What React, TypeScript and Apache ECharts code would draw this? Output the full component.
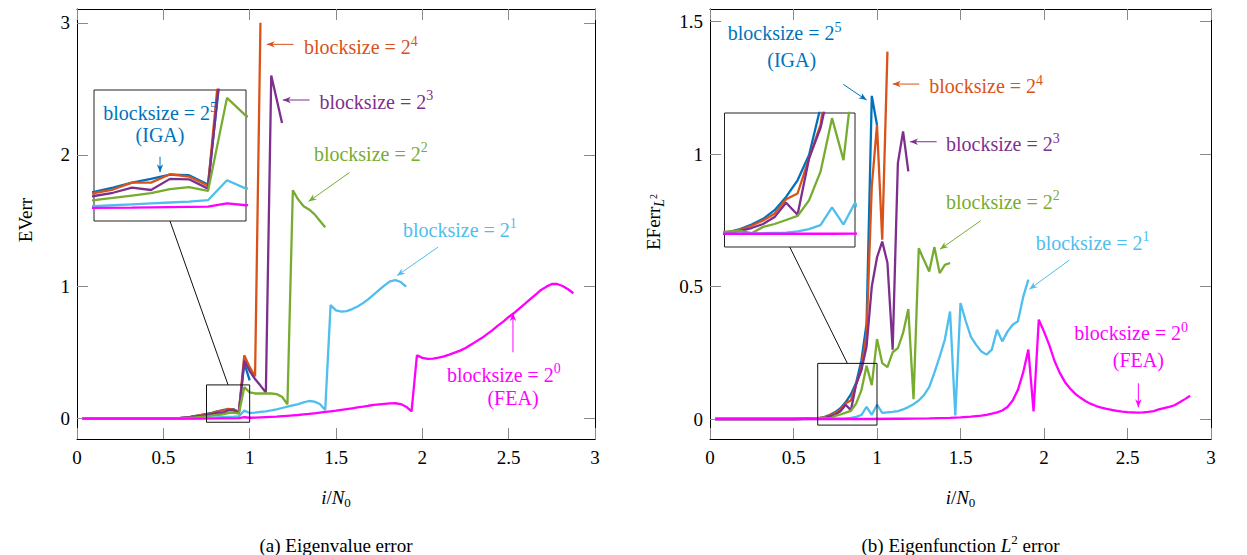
import React, { useEffect, useRef } from "react";
import * as echarts from "echarts";

const N0 = 32;
const SERIF = "'Liberation Serif', 'DejaVu Serif', serif";
const FS = 19;

const colors = ["#0072BD", "#D95319", "#7E2F8E", "#77AC30", "#4DBEEE", "#FF00FF"];
const exponents = ["5", "4", "3", "2", "1", "0"];

const xTickValues = [0, 0.5, 1, 1.5, 2, 2.5, 3];
const evTickValues = [0, 1, 2, 3];
const efTickValues = [0, 0.5, 1, 1.5];

// [i, value] pairs, plotted at x = i / N0
// (a) Eigenvalue error
const evB5 = [[1, 0], [16, 0], [18, 0.002], [19, 0.004], [20, 0.008], [21, 0.013], [22, 0.02], [23, 0.027], [24, 0.035], [25, 0.044], [26, 0.055], [27, 0.063], [28, 0.072], [29, 0.071], [30, 0.051], [31, 0.42], [32, 0.29]];
const evB4 = [[1, 0], [16, 0], [18, 0.002], [19, 0.004], [20, 0.007], [21, 0.012], [22, 0.018], [23, 0.025], [24, 0.032], [25, 0.04], [26, 0.055], [27, 0.055], [28, 0.073], [29, 0.068], [30, 0.048], [31, 0.48], [32, 0.39], [33, 0.32], [34, 3.0]];
const evB3 = [[1, 0], [16, 0], [18, 0.002], [19, 0.003], [20, 0.006], [21, 0.01], [22, 0.015], [23, 0.02], [24, 0.026], [25, 0.033], [26, 0.044], [27, 0.039], [28, 0.063], [29, 0.062], [30, 0.042], [31, 0.44], [32, 0.36], [33, 0.3], [34, 0.25], [35, 0.197], [36, 2.6], [37, 2.42], [38, 2.24]];
const evB2 = [[1, 0], [16, 0], [18, 0.001], [19, 0.002], [20, 0.004], [21, 0.006], [22, 0.009], [23, 0.013], [24, 0.017], [25, 0.022], [26, 0.027], [27, 0.032], [28, 0.041], [29, 0.045], [30, 0.037], [31, 0.238], [32, 0.199], [33, 0.19], [34, 0.19], [35, 0.19], [36, 0.19], [37, 0.185], [38, 0.165], [39, 0.108], [40, 1.73], [41, 1.66], [42, 1.61], [43, 1.585], [44, 1.55], [45, 1.5], [46, 1.45]];
const evB1 = [[1, 0], [16, 0], [20, 0.001], [22, 0.002], [24, 0.004], [25, 0.006], [26, 0.008], [27, 0.01], [28, 0.012], [29, 0.014], [30, 0.017], [31, 0.06], [32, 0.042], [33, 0.045], [34, 0.05], [35, 0.055], [36, 0.062], [37, 0.07], [38, 0.08], [39, 0.09], [40, 0.1], [41, 0.11], [42, 0.122], [43, 0.133], [44, 0.128], [45, 0.11], [46, 0.065], [47, 0.86], [48, 0.82], [49, 0.81], [50, 0.815], [51, 0.83], [52, 0.85], [53, 0.875], [54, 0.905], [55, 0.94], [56, 0.975], [57, 1.01], [58, 1.04], [59, 1.05], [60, 1.035], [61, 1.0]];
const evB0 = [[1, 0], [22, 0], [26, 0.001], [30, 0.003], [31, 0.01], [32, 0.006], [33, 0.007], [34, 0.009], [35, 0.011], [36, 0.013], [37, 0.015], [38, 0.018], [39, 0.021], [40, 0.024], [41, 0.027], [42, 0.031], [43, 0.035], [44, 0.04], [45, 0.045], [46, 0.05], [47, 0.055], [48, 0.06], [49, 0.066], [50, 0.072], [51, 0.078], [52, 0.084], [53, 0.09], [54, 0.097], [55, 0.103], [56, 0.108], [57, 0.112], [58, 0.115], [59, 0.116], [60, 0.11], [61, 0.09], [62, 0.055], [63, 0.48], [64, 0.46], [65, 0.452], [66, 0.455], [67, 0.462], [68, 0.472], [69, 0.485], [70, 0.5], [71, 0.515], [72, 0.535], [73, 0.56], [74, 0.585], [75, 0.61], [76, 0.64], [77, 0.67], [78, 0.705], [79, 0.735], [80, 0.77], [81, 0.8], [82, 0.835], [83, 0.87], [84, 0.905], [85, 0.94], [86, 0.975], [87, 1.0], [88, 1.02], [89, 1.02], [90, 1.005], [91, 0.98], [92, 0.95]];

// (b) Eigenfunction L2 error
const efB5 = [[1, 0], [16, 0], [18, 0.001], [20, 0.002], [21, 0.003], [22, 0.008], [23, 0.016], [24, 0.026], [25, 0.041], [26, 0.064], [27, 0.093], [28, 0.137], [29, 0.22], [30, 0.36], [31, 1.22], [32, 1.11]];
const efB4 = [[1, 0], [16, 0], [18, 0.001], [20, 0.002], [21, 0.003], [22, 0.007], [23, 0.014], [24, 0.023], [25, 0.035], [26, 0.06], [27, 0.07], [28, 0.131], [29, 0.19], [30, 0.32], [31, 0.878], [32, 1.11], [33, 0.677], [34, 1.387]];
const efB3 = [[1, 0], [16, 0], [18, 0.001], [20, 0.002], [21, 0.002], [22, 0.005], [23, 0.01], [24, 0.017], [25, 0.029], [26, 0.054], [27, 0.033], [28, 0.131], [29, 0.184], [30, 0.274], [31, 0.5], [32, 0.61], [33, 0.67], [34, 0.59], [35, 0.262], [36, 0.966], [37, 1.086], [38, 0.935]];
const efB2 = [[1, 0], [16, 0], [19, 0.001], [21, 0.004], [22, 0.005], [23, 0.001], [24, 0.012], [25, 0.017], [26, 0.024], [27, 0.031], [28, 0.058], [29, 0.108], [30, 0.201], [31, 0.128], [32, 0.302], [33, 0.211], [34, 0.196], [35, 0.252], [36, 0.268], [37, 0.325], [38, 0.415], [39, 0.075], [40, 0.645], [41, 0.6], [42, 0.557], [43, 0.649], [44, 0.551], [45, 0.582], [46, 0.589]];
const efB1 = [[1, 0], [20, 0], [24, 0.001], [26, 0.002], [27, 0.004], [28, 0.008], [29, 0.015], [30, 0.046], [31, 0.016], [32, 0.054], [33, 0.023], [34, 0.025], [35, 0.027], [36, 0.03], [37, 0.036], [38, 0.045], [39, 0.056], [40, 0.07], [41, 0.09], [42, 0.12], [43, 0.175], [44, 0.235], [45, 0.3], [46, 0.406], [47, 0.013], [48, 0.438], [49, 0.37], [50, 0.31], [51, 0.28], [52, 0.255], [53, 0.243], [54, 0.262], [55, 0.337], [56, 0.293], [57, 0.33], [58, 0.356], [59, 0.369], [60, 0.46], [61, 0.526]];
const efB0 = [[1, 0], [30, 0], [36, 0.001], [42, 0.002], [46, 0.004], [48, 0.006], [50, 0.009], [52, 0.013], [53, 0.016], [54, 0.02], [55, 0.025], [56, 0.032], [57, 0.045], [58, 0.07], [59, 0.11], [60, 0.175], [61, 0.262], [62, 0.029], [63, 0.375], [64, 0.33], [65, 0.28], [66, 0.22], [67, 0.175], [68, 0.14], [69, 0.115], [70, 0.095], [71, 0.08], [72, 0.067], [73, 0.057], [74, 0.049], [75, 0.043], [76, 0.038], [77, 0.034], [78, 0.031], [79, 0.028], [80, 0.026], [81, 0.025], [82, 0.024], [83, 0.025], [84, 0.027], [85, 0.03], [86, 0.036], [87, 0.041], [88, 0.046], [89, 0.052], [90, 0.063], [91, 0.075], [92, 0.088]];

const evSeries = [evB5, evB4, evB3, evB2, evB1, evB0];
const efSeries = [efB5, efB4, efB3, efB2, efB1, efB0];

// axis ranges
const xRange = [0, 3];
const evRange = [-0.155, 3.105];
const efRange = [-0.0755, 1.548];
const evZoomX = [0.75, 1.0];
const evZoomY = [-0.028, 0.255];
const efZoomX = [0.645, 1.0];
const efZoomY = [-0.023, 0.21];

// annotation anchors in data coordinates
const evNotes = [
  { s: 1, at: [1.315, 2.816], from: [1.254, 2.837], to: [1.099, 2.837] },
  { s: 2, at: [1.404, 2.4], from: [1.347, 2.415], to: [1.192, 2.415] },
  { s: 3, at: [1.372, 2.006], from: [1.578, 1.865], to: [1.341, 1.645] },
  { s: 4, at: [1.888, 1.431], from: [2.091, 1.3], to: [1.853, 1.083] },
  { s: 5, at: [2.143, 0.333], from: [2.525, 0.502], to: [2.525, 0.8], sub: "(FEA)", subAt: [2.525, 0.159] },
];
const evInsetNote = { s: 0, at: [0.7653, 0.2047], from: [0.8586, 0.111], to: [0.8586, 0.0772], sub: "(IGA)", subAt: [0.8586, 0.1578] };
const efNotes = [
  { s: 0, at: [0.106, 1.456], from: [0.798, 1.2635], to: [0.938, 1.204], sub: "(IGA)", subAt: [0.489, 1.355] },
  { s: 1, at: [1.313, 1.257], from: [1.253, 1.2646], to: [1.094, 1.2646] },
  { s: 2, at: [1.413, 1.038], from: [1.357, 1.0468], to: [1.198, 1.0468] },
  { s: 3, at: [1.413, 0.82], from: [1.621, 0.7486], to: [1.377, 0.6406] },
  { s: 4, at: [1.95, 0.6655], from: [2.152, 0.6], to: [1.912, 0.4896] },
  { s: 5, at: [2.181, 0.3235], from: [2.565, 0.1348], to: [2.565, 0.0442], sub: "(FEA)", subAt: [2.565, 0.2227] },
];

const toXY = (pts: number[][]) => pts.map(([i, v]) => [i / N0, v]);

const tickStyle = { show: true, inside: true, length: 11, lineStyle: { color: "#8a8a8a", width: 1 } };
const lineAx = { show: true, onZero: false, lineStyle: { color: "#000", width: 1 } };
const labelStyle = { color: "#000", fontFamily: SERIF, fontSize: FS };

export default function App() {
  const ref = useRef<HTMLDivElement>(null);
  useEffect(() => {
    document.body.style.margin = "0";
    const el = ref.current!;
    const chart = echarts.init(el, undefined, { renderer: "svg" });

    const mainX = (grid: number, pos: string, showLabel: boolean) => ({
      type: "value", gridIndex: grid, position: pos, min: xRange[0], max: xRange[1], interval: 0.5,
      axisLine: lineAx, axisTick: { ...tickStyle, customValues: xTickValues }, splitLine: { show: false },
      axisLabel: { show: showLabel, margin: 9, customValues: xTickValues, ...labelStyle },
    });
    const mainY = (grid: number, pos: string, showLabel: boolean, range: number[], ticks: number[]) => ({
      type: "value", gridIndex: grid, position: pos, min: range[0], max: range[1],
      axisLine: lineAx, axisTick: { ...tickStyle, customValues: ticks }, splitLine: { show: false },
      axisLabel: { show: showLabel, margin: 7, customValues: ticks, ...labelStyle },
    });
    const insetAx = (grid: number, range: number[]) => ({
      type: "value", gridIndex: grid, min: range[0], max: range[1], show: false, splitLine: { show: false },
    });

    const series: any[] = [];
    [evSeries, efSeries].forEach((set, c) => {
      set.forEach((pts, s) => {
        const data = toXY(pts);
        series.push({
          type: "line", xAxisIndex: c, yAxisIndex: c, data, showSymbol: false, symbol: "none",
          lineStyle: { color: colors[s], width: 2.3 }, itemStyle: { color: colors[s] }, z: 2,
        });
        series.push({
          type: "line", xAxisIndex: 4 + c, yAxisIndex: 4 + c, data, showSymbol: false, symbol: "none",
          lineStyle: { color: colors[s], width: 2.3 }, itemStyle: { color: colors[s] }, z: 7,
        });
      });
    });

    chart.setOption({
      animation: false,
      backgroundColor: "#fff",
      grid: [
        { left: 77, top: 9, width: 518, height: 430 },
        { left: 710, top: 9, width: 501, height: 430 },
        { left: 94, top: 90, width: 152, height: 131, show: true, backgroundColor: "#fff", borderColor: "#222", borderWidth: 1, z: 5 },
        { left: 724.5, top: 113, width: 130.5, height: 134, show: true, backgroundColor: "#fff", borderColor: "#222", borderWidth: 1, z: 5 },
      ],
      xAxis: [
        mainX(0, "bottom", true), mainX(1, "bottom", true), mainX(0, "top", false), mainX(1, "top", false),
        insetAx(2, evZoomX), insetAx(3, efZoomX),
      ],
      yAxis: [
        mainY(0, "left", true, evRange, evTickValues), mainY(1, "left", true, efRange, efTickValues),
        mainY(0, "right", false, evRange, evTickValues), mainY(1, "right", false, efRange, efTickValues),
        insetAx(2, evZoomY), insetAx(3, efZoomY),
      ],
      series,
    });

    const px = (x: number, y: number, ax: number) => chart.convertToPixel({ xAxisIndex: ax, yAxisIndex: ax }, [x, y]) as number[];

    const richFor = (color: string) => ({
      b: { fontSize: 20, fontFamily: SERIF, fill: color, lineHeight: 26, verticalAlign: "middle" },
      s: { fontSize: 14, fontFamily: SERIF, fill: color, lineHeight: 12, verticalAlign: "top" },
    });

    const graphics: any[] = [];
    const arrow = (a: number[], b: number[], color: string) => {
      graphics.push({ type: "line", shape: { x1: a[0], y1: a[1], x2: b[0], y2: b[1] }, style: { stroke: color, lineWidth: 1 }, z: 50 });
      const dx = b[0] - a[0], dy = b[1] - a[1];
      const L = Math.hypot(dx, dy) || 1;
      const ux = dx / L, uy = dy / L;
      const hl = 8, hw = 3.2;
      const bx = b[0] - ux * hl, by = b[1] - uy * hl;
      graphics.push({
        type: "polygon",
        shape: { points: [[b[0], b[1]], [bx - uy * hw, by + ux * hw], [b[0] - ux * hl * 0.7, b[1] - uy * hl * 0.7], [bx + uy * hw, by - ux * hw]] },
        style: { fill: color }, z: 50,
      });
    };
    const note = (n: any, ax: number) => {
      const color = colors[n.s];
      const p = px(n.at[0], n.at[1], ax);
      graphics.push({
        type: "text", x: p[0], y: p[1], z: 50,
        style: { text: `{b|blocksize = 2}{s|${exponents[n.s]}}`, rich: richFor(color), align: "left", verticalAlign: "middle" },
      });
      if (n.sub) {
        const q = px(n.subAt[0], n.subAt[1], ax);
        graphics.push({
          type: "text", x: q[0], y: q[1], z: 50,
          style: { text: n.sub, fill: color, fontSize: 20, fontFamily: SERIF, align: "center", verticalAlign: "middle" },
        });
      }
      arrow(px(n.from[0], n.from[1], ax), px(n.to[0], n.to[1], ax), color);
    };
    evNotes.forEach((n) => note(n, 0));
    efNotes.forEach((n) => note(n, 1));
    note(evInsetNote, 4);

    // zoom boxes and connectors
    const spy = (ax: number, inAx: number, zx: number[], zy: number[]) => {
      const tl = px(zx[0], zy[1], ax), br = px(zx[1], zy[0], ax);
      graphics.push({ type: "rect", shape: { x: tl[0], y: tl[1], width: br[0] - tl[0], height: br[1] - tl[1] }, style: { fill: "none", stroke: "#111", lineWidth: 1 }, z: 40 });
      const mid = (zx[0] + zx[1]) / 2;
      const a = px(mid, zy[0], inAx), b = px(mid, zy[1], ax);
      graphics.push({ type: "line", shape: { x1: a[0], y1: a[1], x2: b[0], y2: b[1] }, style: { stroke: "#111", lineWidth: 1 }, z: 40 });
    };
    spy(0, 4, evZoomX, evZoomY);
    spy(1, 5, efZoomX, efZoomY);

    // axis titles and captions
    const xName = (cx: number) => ({
      type: "text", x: cx, y: 497, z: 50,
      style: {
        text: "{i|i}{n|/}{i|N}{d|0}", align: "center", verticalAlign: "middle",
        rich: {
          i: { fontSize: FS, fontFamily: SERIF, fontStyle: "italic", fill: "#000", lineHeight: 24, verticalAlign: "middle" },
          n: { fontSize: FS, fontFamily: SERIF, fill: "#000", lineHeight: 24, verticalAlign: "middle" },
          d: { fontSize: 13, fontFamily: SERIF, fill: "#000", lineHeight: 12, verticalAlign: "bottom" },
        },
      },
    });
    const g0 = px(0, 0, 0), g0r = px(3, 0, 0), g1 = px(0, 0, 1), g1r = px(3, 0, 1);
    const c0 = (g0[0] + g0r[0]) / 2, c1 = (g1[0] + g1r[0]) / 2;
    graphics.push(xName(c0), xName(c1));
    graphics.push({
      type: "text", x: 25, y: 220, rotation: Math.PI / 2, z: 50,
      style: { text: "EVerr", fill: "#000", fontSize: FS, fontFamily: SERIF, align: "center", verticalAlign: "middle" },
    });
    graphics.push({
      type: "text", x: 653, y: 222, rotation: Math.PI / 2, z: 50,
      style: {
        text: "{b|EFerr}{l|L}{t|2}", align: "center", verticalAlign: "middle",
        rich: {
          b: { fontSize: FS, fontFamily: SERIF, fill: "#000", lineHeight: 26, verticalAlign: "middle" },
          l: { fontSize: 14, fontFamily: SERIF, fontStyle: "italic", fill: "#000", lineHeight: 12, verticalAlign: "bottom" },
          t: { fontSize: 10, fontFamily: SERIF, fill: "#000", lineHeight: 26, verticalAlign: "middle" },
        },
      },
    });
    graphics.push({
      type: "text", x: c0, y: 545, z: 50,
      style: { text: "(a) Eigenvalue error", fill: "#000", fontSize: FS, fontFamily: SERIF, align: "center", verticalAlign: "middle" },
    });
    graphics.push({
      type: "text", x: c1, y: 545, z: 50,
      style: {
        text: "{b|(b) Eigenfunction }{l|L}{s|2}{b| error}", align: "center", verticalAlign: "middle",
        rich: {
          b: { fontSize: FS, fontFamily: SERIF, fill: "#000", lineHeight: 24, verticalAlign: "middle" },
          l: { fontSize: FS, fontFamily: SERIF, fontStyle: "italic", fill: "#000", lineHeight: 24, verticalAlign: "middle" },
          s: { fontSize: 13, fontFamily: SERIF, fill: "#000", lineHeight: 12, verticalAlign: "top" },
        },
      },
    });

    chart.setOption({ graphic: graphics });
    return () => chart.dispose();
  }, []);
  return <div ref={ref} style={{ width: 1247, height: 555 }} />;
}
